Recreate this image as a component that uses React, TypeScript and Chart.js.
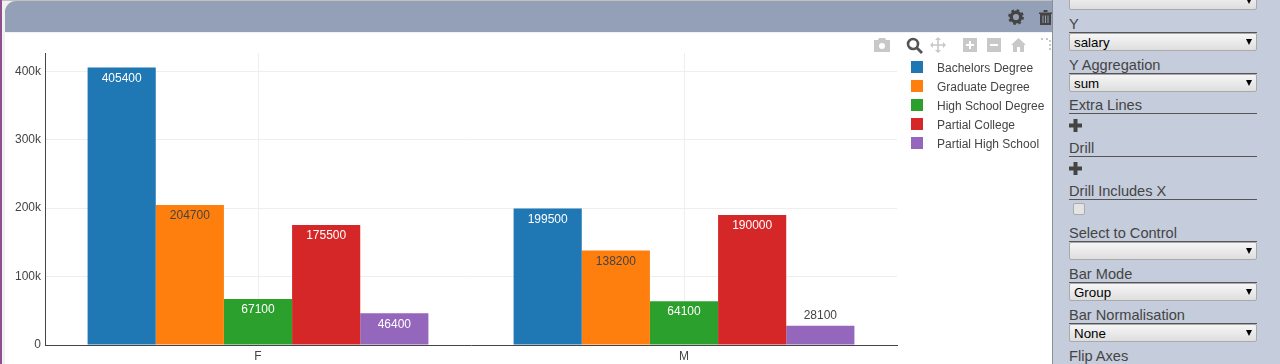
import React, { useEffect, useRef } from "react";
import { Chart, registerables } from "chart.js";

Chart.register(...registerables);

const categories = ["F", "M"];
const seriesNames = ["Bachelors Degree", "Graduate Degree", "High School Degree", "Partial College", "Partial High School"];
const bachelors = [405400, 199500];
const graduate = [204700, 138200];
const highSchool = [67100, 64100];
const partialCollege = [175500, 190000];
const partialHighSchool = [46400, 28100];
const seriesValues = [bachelors, graduate, highSchool, partialCollege, partialHighSchool];
const seriesColors = ["#1f77b4", "#ff7f0e", "#2ca02c", "#d62728", "#9467bd"];
const insideTextColors = ["#ffffff", "#444444", "#ffffff", "#ffffff", "#ffffff"];
const yTicks = [0, 100000, 200000, 300000, 400000];
const yMax = 426700;

const FONT = '"Liberation Sans", Arial, sans-serif';

const barLabels = {
  id: "barLabels",
  afterDatasetsDraw(chart: any) {
    const ctx = chart.ctx;
    ctx.save();
    ctx.font = `12px ${FONT}`;
    ctx.textAlign = "center";
    ctx.textBaseline = "middle";
    chart.data.datasets.forEach((ds: any, i: number) => {
      chart.getDatasetMeta(i).data.forEach((el: any, j: number) => {
        const h = chart.scales.y.getPixelForValue(0) - el.y;
        const inside = h > 24;
        ctx.fillStyle = inside ? insideTextColors[i] : "#444444";
        ctx.fillText(String(ds.data[j]), el.x, inside ? el.y + 11 : el.y - 10);
      });
    });
    ctx.restore();
  },
};

const abs = (left: number, top: number, width: number, height: number, extra: any = {}) => ({
  position: "absolute" as const, left, top, width, height, ...extra,
});

function PanelLabel({ text, cy, lineY }: { text: string; cy: number; lineY: number }) {
  return (
    <>
      <div style={abs(1069, cy - 10, 188, 20, { font: `14.6px/20px ${FONT}`, color: "#444", whiteSpace: "nowrap" })}>{text}</div>
      <div style={abs(1069, lineY, 188, 1, { background: "#555" })} />
    </>
  );
}

function PanelSelect({ text, top }: { text: string; top: number }) {
  return (
    <div style={abs(1069, top, 188, 18, {
      boxSizing: "border-box", border: "1px solid #aaa", borderRadius: 2,
      background: "linear-gradient(#f6f6f6,#dedede)", font: `13.33px/17px ${FONT}`, color: "#000", paddingLeft: 4,
    })}>
      {text}
      <svg width="6" height="6" style={{ position: "absolute", right: 4, top: 5 }}><path d="M0 0H6L3 6Z" fill="#000" /></svg>
    </div>
  );
}

function Plus({ x, y }: { x: number; y: number }) {
  return <svg width="13" height="13" style={{ position: "absolute", left: x, top: y }}><path d="M4.5 0H8.5V4.5H13V8.5H8.5V13H4.5V8.5H0V4.5H4.5Z" fill="#444" /></svg>;
}

function Icon({ x, y, w, h, children }: any) {
  return <svg width={w} height={h} style={{ position: "absolute", left: x, top: y }}>{children}</svg>;
}

export default function App() {
  const ref = useRef<HTMLCanvasElement>(null);
  useEffect(() => {
    const chart = new Chart(ref.current!, {
      type: "bar",
      data: {
        labels: categories,
        datasets: seriesNames.map((name, i) => ({
          label: name,
          data: seriesValues[i],
          backgroundColor: seriesColors[i],
          borderWidth: 0,
          categoryPercentage: 0.8,
          barPercentage: 1,
        })),
      },
      options: {
        responsive: false,
        animation: false,
        layout: { padding: { left: 5, top: 53, right: 156, bottom: 0 } },
        plugins: { legend: { display: false }, title: { display: false }, tooltip: { enabled: false } },
        scales: {
          x: {
            afterFit: (s: any) => { s.height = 19; },
            grid: {
              offset: false, color: "#eeeeee", drawTicks: false,
            },
            border: { color: "#444444", width: 1 },
            ticks: { color: "#444444", font: { family: FONT, size: 12 }, padding: 4, maxRotation: 0 },
          },
          y: {
            min: 0,
            max: yMax,
            afterFit: (s: any) => { s.width = 40; },
            afterBuildTicks: (s: any) => { s.ticks = yTicks.map((value) => ({ value })); },
            grid: { color: "#eeeeee", drawTicks: false },
            border: { color: "#444444", width: 1 },
            ticks: {
              color: "#444444", font: { family: FONT, size: 12 }, padding: 4,
              callback: (v: any) => (v === 0 ? "0" : `${v / 1000}k`),
            },
          },
        },
      } as any,
      plugins: [barLabels],
    });
    return () => chart.destroy();
  }, []);

  const g = "#c8c8c8";
  return (
    <div style={{ position: "fixed", left: 0, top: 0, width: 1280, height: 364, overflow: "hidden", background: "#f1f1f1", fontFamily: FONT }}>
      <div style={abs(0, 0, 1280, 1, { background: "#c2c2bc" })} />
      <div style={abs(0, 0, 1.5, 364, { background: "#8f4f8f" })} />
      <div style={abs(5, 33, 1048, 331, { background: "#fff" })} />
      <div style={abs(5, 1, 1048, 31, { background: "#94a0b8", borderTopLeftRadius: 11 })} />
      <canvas ref={ref} width={1053} height={364} style={abs(0, 0, 1053, 364, { display: "block" })} />

      {/* header icons */}
      <Icon x={1008} y={9} w={16} h={16}>
        <circle cx="8" cy="8" r="4.8" fill="none" stroke="#444" strokeWidth="3.4" />
        <circle cx="8" cy="8" r="6.4" fill="none" stroke="#444" strokeWidth="3" strokeDasharray="2.5 2.5" />
      </Icon>
      <Icon x={1039} y={10} w={14} h={15}>
        <path d="M0 2.5H13V4H12V15H1V4H0ZM4.5 0H8.5V2H4.5Z" fill="#444" />
        <path d="M4 5.5V13M6.5 5.5V13M9 5.5V13" stroke="#94a0b8" strokeWidth="1" />
      </Icon>

      {/* modebar */}
      <Icon x={874} y={38} w={16} h={14}>
        <path d="M0 2H4L5 0H11L12 2H16V14H0Z" fill={g} />
        <circle cx="8" cy="8" r="3" fill="#fff" />
      </Icon>
      <Icon x={906} y={37} w={17} h={17}>
        <circle cx="7" cy="7" r="5" fill="#fff" stroke="#555" strokeWidth="2.6" />
        <path d="M10.5 10.5L16 16" stroke="#555" strokeWidth="2.8" />
      </Icon>
      <Icon x={930} y={37} w={16} h={16}>
        <path d="M8 1V15M1 8H15" stroke={g} strokeWidth="1.6" />
        <path d="M8 0L11 3H5ZM8 16L5 13H11ZM0 8L3 5V11ZM16 8L13 11V5Z" fill={g} />
      </Icon>
      <Icon x={963} y={38} w={14} h={14}>
        <path d="M0 0H14V14H0Z" fill={g} />
        <path d="M7 3V11M3 7H11" stroke="#fff" strokeWidth="2" />
      </Icon>
      <Icon x={987} y={38} w={14} h={14}>
        <path d="M0 0H14V14H0Z" fill={g} />
        <path d="M3 7H11" stroke="#fff" strokeWidth="2" />
      </Icon>
      <Icon x={1011} y={38} w={15} h={14}>
        <path d="M7.5 0L15 7H13V14H9V9H6V14H2V7H0Z" fill={g} />
      </Icon>
      <Icon x={1041} y={38} w={12} h={14}>
        <path d="M0 1H3M5 1H8M9 2V12" stroke={g} strokeWidth="2" strokeDasharray="2 2" />
      </Icon>

      {/* legend */}
      {seriesNames.map((name, i) => (
        <React.Fragment key={name}>
          <div style={abs(911, 61 + i * 19, 12, 12, { background: seriesColors[i] })} />
          <div style={abs(937, 59 + i * 19, 115, 19, { font: `12px/19px ${FONT}`, color: "#444", whiteSpace: "nowrap" })}>{name}</div>
        </React.Fragment>
      ))}

      {/* right panel */}
      <div style={abs(1052, 0, 228, 364, { background: "#c5ccdb", borderLeft: "1px solid #8a8f9a", boxSizing: "border-box" })} />
      <PanelSelect text="" top={-8} />
      <PanelLabel text="Y" cy={24} lineY={32} />
      <PanelSelect text="salary" top={33} />
      <PanelLabel text="Y Aggregation" cy={65} lineY={73} />
      <PanelSelect text="sum" top={74} />
      <PanelLabel text="Extra Lines" cy={105} lineY={113} />
      <Plus x={1069} y={119} />
      <PanelLabel text="Drill" cy={148} lineY={156} />
      <Plus x={1069} y={162} />
      <PanelLabel text="Drill Includes X" cy={191} lineY={199} />
      <div style={abs(1073, 203, 12, 12, { boxSizing: "border-box", border: "1px solid #aaa", borderRadius: 2, background: "#e4e4e4" })} />
      <PanelLabel text="Select to Control" cy={233} lineY={241} />
      <PanelSelect text="" top={242} />
      <PanelLabel text="Bar Mode" cy={274} lineY={282} />
      <PanelSelect text="Group" top={283} />
      <PanelLabel text="Bar Normalisation" cy={315} lineY={323} />
      <PanelSelect text="None" top={324} />
      <div style={abs(1069, 346, 188, 20, { font: `14.6px/20px ${FONT}`, color: "#444" })}>Flip Axes</div>
    </div>
  );
}
